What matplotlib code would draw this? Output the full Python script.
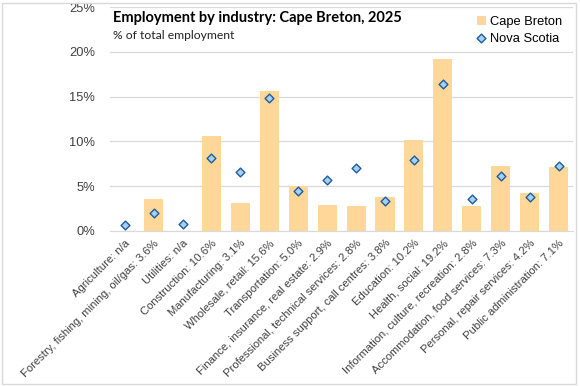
import numpy as np
import matplotlib
matplotlib.use("Agg")
import matplotlib.pyplot as plt
from matplotlib.patches import Rectangle
from matplotlib.ticker import FuncFormatter, MultipleLocator

industries = [
    "Agriculture: n/a",
    "Forestry, fishing, mining, oil/gas: 3.6%",
    "Utilities: n/a",
    "Construction: 10.6%",
    "Manufacturing: 3.1%",
    "Wholesale, retail: 15.6%",
    "Transportation: 5.0%",
    "Finance, insurance, real estate: 2.9%",
    "Professional, technical services: 2.8%",
    "Business support, call centres: 3.8%",
    "Education: 10.2%",
    "Health, social: 19.2%",
    "Information, culture, recreation: 2.8%",
    "Accommodation, food services: 7.3%",
    "Personal, repair services: 4.2%",
    "Public administration: 7.1%",
]
cape_breton = [np.nan, 3.6, np.nan, 10.6, 3.1, 15.6, 5.0, 2.9, 2.8, 3.8, 10.2, 19.2, 2.8, 7.3, 4.2, 7.1]
nova_scotia = [0.7, 2.0, 0.8, 8.2, 6.6, 14.9, 4.5, 5.7, 7.0, 3.3, 7.9, 16.4, 3.6, 6.1, 3.8, 7.3]

narrow = ["Liberation Sans Narrow", "Liberation Sans", "DejaVu Sans"]
plt.rcParams['font.family'] = narrow

fig = plt.figure(figsize=(5.8, 3.86), dpi=100)
ax = fig.add_axes([0.19, 0.4016, 0.798, 0.580])

x = np.arange(len(industries))
bars = ax.bar(x, cape_breton, width=0.66, color="#FFD899", zorder=2, label="Cape Breton")
pts = ax.scatter(x, nova_scotia, marker="D", s=20, facecolor="#A6D1F2", edgecolor="#1F5C99",
                 linewidth=1.0, zorder=3, label="Nova Scotia")

ax.set_xlim(-0.5, len(industries) - 0.5)
ax.set_ylim(0, 25)
ax.yaxis.set_major_locator(MultipleLocator(5))
ax.yaxis.set_major_formatter(FuncFormatter(lambda v, p: f"{v:.0f}%"))
ax.grid(axis="y", color="#D9D9D9", linewidth=0.9, zorder=0)
ax.set_axisbelow(True)
for s in ["left", "right", "top"]:
    ax.spines[s].set_visible(False)
ax.spines["bottom"].set_color("#D9D9D9")
ax.tick_params(axis="both", length=0, colors="#404040")
ax.tick_params(axis="y", pad=11, labelsize=9.3)
ax.set_xticks(x)
ax.set_xticklabels(industries, rotation=45, ha="right", rotation_mode="anchor", fontsize=8.1)
ax.tick_params(axis="x", pad=5)

ax.text(0.005, 0.95, "Employment by industry: Cape Breton, 2025", transform=ax.transAxes,
        fontsize=10.5, fontweight="bold", family=["Lato", "DejaVu Sans"], color="black", va="center")
ax.text(0.005, 0.875, "% of total employment", transform=ax.transAxes,
        fontsize=8.7, family=["Lato", "DejaVu Sans"], color="#222222", va="center")

ax.legend([bars, pts], ["Cape Breton", "Nova Scotia"], loc="upper right",
          bbox_to_anchor=(0.995, 1.0), frameon=False, fontsize=9.3,
          handlelength=0.7, handletextpad=0.3, labelspacing=0.35, borderpad=0.2)

fig.patches.append(Rectangle((2 / 580, 2 / 386), 574 / 580, 381 / 386, transform=fig.transFigure,
                             fill=False, edgecolor="#D9D9D9", linewidth=1))

fig.savefig("out.png", dpi=100)
